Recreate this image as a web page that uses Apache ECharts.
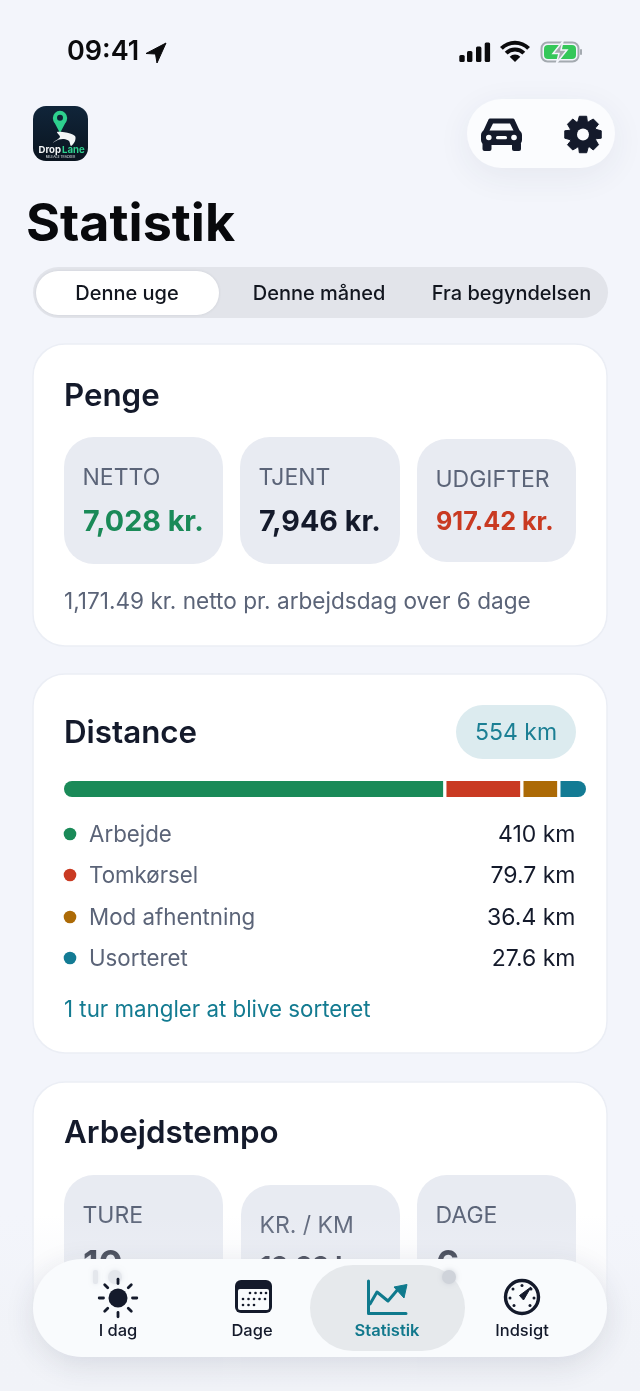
<!DOCTYPE html>
<html lang="da">
<head>
    <meta charset="UTF-8">
    <title>Statistik</title>
    <script src="https://cdn.jsdelivr.net/npm/echarts@6/dist/echarts.min.js"></script>
    <style>
        html, body { margin: 0; padding: 0; background: #f3f5fb; }
        #content { width: 640px; height: 1391px; }
    </style>
</head>
<body>
<div id="content"></div>
<script>
    // data
    var periodTabs = ['Denne uge', 'Denne måned', 'Fra begyndelsen'];
    var moneyLabels = ['NETTO', 'TJENT', 'UDGIFTER'];
    var moneyValues = ['7,028 kr.', '7,946 kr.', '917.42 kr.'];
    var distanceCategories = ['Arbejde', 'Tomkørsel', 'Mod afhentning', 'Usorteret'];
    var distanceValues = [410, 79.7, 36.4, 27.6];
    var distanceLabels = ['410 km', '79.7 km', '36.4 km', '27.6 km'];
    var tempoLabels = ['TURE', 'KR. / KM', 'DAGE'];
    var tempoValues = ['10', '13.33 kr.', '6'];
    var navLabels = ['I dag', 'Dage', 'Statistik', 'Indsigt'];

    var INK = '#141a2b', GREY = '#5b6478', TEAL = '#137b91', TILE = '#e8ebf2';
    var segmentColors = ['#1a8a58', '#c93a22', '#ac6a06', '#137b94'];
    var FONT = 'Inter, "Noto Sans", sans-serif';

    var g = [];
    function rect(x, y, w, h, r, fill, extra) {
        g.push({type: 'rect', silent: true, shape: {x: x, y: y, width: w, height: h, r: r},
            style: Object.assign({fill: fill}, extra || {})});
    }
    function text(x, y, s, size, weight, color, align) {
        g.push({type: 'text', silent: true, x: x, y: y + 1, style: {text: s, fill: color,
            font: weight + ' ' + size + 'px ' + FONT, textAlign: align || 'left', textVerticalAlign: 'middle'}});
    }
    function circle(x, y, r, fill, extra) {
        g.push({type: 'circle', silent: true, shape: {cx: x, cy: y, r: r},
            style: Object.assign({fill: fill}, extra || {})});
    }
    function poly(points, fill, extra, smooth) {
        g.push({type: 'polygon', silent: true, shape: {points: points, smooth: smooth || 0},
            style: Object.assign({fill: fill}, extra || {})});
    }
    function line(points, color, width) {
        g.push({type: 'polyline', silent: true, shape: {points: points},
            style: {fill: null, stroke: color, lineWidth: width, lineCap: 'round', lineJoin: 'round'}});
    }
    function wedge(x, y, r0, r, fill) {
        g.push({type: 'sector', silent: true, shape: {cx: x, cy: y, r0: r0, r: r,
            startAngle: -Math.PI * 0.75, endAngle: -Math.PI * 0.25, clockwise: true}, style: {fill: fill}});
    }

    // status bar
    text(67, 51, '09:41', 27, 600, '#0b0b0d');
    poly([[166, 43], [146, 53.5], [155.5, 54], [157, 63]], '#0b0b0d', {stroke: '#0b0b0d', lineWidth: 1, lineJoin: 'round'});
    rect(459.3, 55, 5.4, 7, 1.5, '#0b0b0d');
    rect(467, 51, 5.4, 11, 1.5, '#0b0b0d');
    rect(476, 46.5, 5.4, 15.5, 1.5, '#0b0b0d');
    rect(484.7, 42.5, 5.4, 19.5, 1.5, '#0b0b0d');
    wedge(515, 62, 0, 7.5, '#0b0b0d');
    wedge(515, 62, 10.5, 14.5, '#0b0b0d');
    wedge(515, 62, 17.2, 21.2, '#0b0b0d');
    rect(541.5, 42.5, 37, 19, 6, 'none', {stroke: '#a4aab0', lineWidth: 2});
    rect(544, 45, 32, 14, 4, '#35c759');
    rect(580, 49, 2, 6, 1, '#a4aab0');
    poly([[563, 41], [553, 53.5], [559, 53.5], [556.5, 63], [567, 50], [561, 50]], '#a4a9ad', {stroke: '#f3f5fb', lineWidth: 1.5});

    // logo
    rect(33, 106, 55, 55, 13, {type: 'linear', x: 0, y: 0, x2: 0, y2: 1, colorStops: [
        {offset: 0, color: '#10253a'}, {offset: 1, color: '#0a141f'}]});
    circle(60, 118, 7.2, '#2ed08e');
    poly([[53.6, 121], [60, 133], [66.4, 121]], '#2ed08e');
    circle(60, 117.8, 3, '#0f2236');
    poly([[53, 142.5], [60, 137], [57, 132], [66, 132.5], [75, 136], [75, 141], [71, 146], [69, 141], [64, 139], [59, 139.5]], '#f2f5f6', {}, 0.3);
    g.push({type: 'text', silent: true, x: 38.5, y: 150, style: {text: 'Drop', fill: '#f4f6f7',
        font: '700 9.6px ' + FONT, textVerticalAlign: 'middle'}});
    g.push({type: 'text', silent: true, x: 62, y: 150, style: {text: 'Lane', fill: '#2ed08e',
        font: '700 9.6px ' + FONT, textVerticalAlign: 'middle'}});
    g.push({type: 'text', silent: true, x: 60.5, y: 157, style: {text: 'MILEAGE TRACKER', fill: '#cfd6da',
        font: '500 3.2px ' + FONT, textAlign: 'center', textVerticalAlign: 'middle'}});

    // header buttons
    rect(467, 99, 148, 69, 34.5, '#fbfcfe', {shadowBlur: 34, shadowColor: 'rgba(40,50,80,0.07)', shadowOffsetY: 8});
    poly([[490, 120], [513, 120], [519, 133], [484, 133]], '#141a2b', {stroke: '#141a2b', lineWidth: 3, lineJoin: 'round'});
    rect(481, 130, 41, 15, 5, '#141a2b');
    rect(482.5, 142, 9, 9, 2, '#141a2b');
    rect(512, 142, 9, 9, 2, '#141a2b');
    poly([[493, 123.5], [510, 123.5], [513.5, 130.5], [489.5, 130.5]], '#fbfcfe');
    circle(488.8, 137.5, 2.8, '#fbfcfe');
    circle(514, 137.5, 2.8, '#fbfcfe');
    rect(496, 136, 11, 3.2, 1.5, '#fbfcfe');
    var gear = [];
    for (var t = 0; t < 8; t++) {
        var a = t * Math.PI / 4 - Math.PI / 2;
        [[-0.2, 18.6], [0.2, 18.6], [0.3, 14.2], [Math.PI / 8, 13.6]].forEach(function (p) {
            gear.push([583 + p[1] * Math.cos(a + p[0]), 134.5 + p[1] * Math.sin(a + p[0])]);
        });
    }
    poly(gear, '#141a2b', {stroke: '#141a2b', lineWidth: 1, lineJoin: 'round'});
    circle(583, 134.5, 6, '#fbfcfe');

    // title and period tabs
    text(26, 224, 'Statistik', 52, 700, '#08090c');
    rect(33, 267, 575, 51, 25.5, '#e2e4ea');
    rect(36, 271, 183, 44, 22, '#ffffff', {shadowBlur: 3, shadowColor: 'rgba(30,40,60,0.12)'});
    periodTabs.forEach(function (s, i) {
        text([127, 319, 511.5][i], 293, s, 20, 500, '#12161f', 'center');
    });

    // Penge card
    var cardBorder = {stroke: '#ebeef5', lineWidth: 1.5};
    rect(33, 344, 574, 302, 32, '#ffffff', cardBorder);
    text(64, 396, 'Penge', 31.3, 600, INK);
    var moneyTiles = [[64, 437, 159, 127], [240, 437, 160, 127], [417, 439, 159, 123]];
    var moneyColors = [segmentColors[0], INK, segmentColors[1]];
    moneyLabels.forEach(function (s, i) {
        var b = moneyTiles[i];
        rect(b[0], b[1], b[2], b[3], 30, TILE);
        text(b[0] + 18.5, i === 2 ? 479 : 477, s, 23, 400, GREY);
        text(b[0] + 19, 521, moneyValues[i], i === 2 ? 25.2 : 28.7, 700, moneyColors[i]);
    });
    text(64, 601, '1,171.49 kr. netto pr. arbejdsdag over 6 dage', 22.6, 400, GREY);

    // Distance card
    rect(33, 674, 574, 379, 32, '#ffffff', cardBorder);
    text(64, 733, 'Distance', 31.3, 600, INK);
    rect(456, 705, 120, 54, 27, '#dcebef');
    text(516, 732, '554 km', 23, 400, '#1b7f94', 'center');
    distanceCategories.forEach(function (s, i) {
        var y = [834, 875, 917, 958][i];
        circle(70, y, 6.3, segmentColors[i]);
        text(89, y, s, 22.3, 400, GREY);
        text(575.5, y, distanceLabels[i], 23, 400, INK, 'right');
    });
    text(64, 1009, '1 tur mangler at blive sorteret', 22.3, 400, TEAL);

    // Arbejdstempo card, runs behind the tab bar
    rect(33, 1082, 574, 340, 32, '#ffffff', cardBorder);
    text(64, 1133, 'Arbejdstempo', 31.3, 600, INK);
    var tempoTiles = [[64, 1175, 159], [241, 1185, 159], [417, 1175, 159]];
    tempoLabels.forEach(function (s, i) {
        var b = tempoTiles[i];
        rect(b[0], b[1], b[2], 240, 30, TILE);
        text(b[0] + 18.5, b[1] + 40, s, 23, 400, GREY);
        text(b[0] + 19, i === 1 ? 1266 : 1264, tempoValues[i], i === 1 ? 26 : 36, 700, INK);
    });

    // fade at the bottom of the screen
    rect(0, 1215, 640, 176, 0, {type: 'linear', x: 0, y: 0, x2: 0, y2: 1, colorStops: [
        {offset: 0, color: 'rgba(241,243,248,0)'}, {offset: 0.25, color: 'rgba(241,243,248,0.3)'},
        {offset: 0.6, color: 'rgba(241,243,248,0.92)'}, {offset: 1, color: '#f1f3f8'}]});

    // tab bar
    rect(33, 1259, 574, 98, 49, '#f9fbfd', {shadowBlur: 30, shadowColor: 'rgba(40,50,80,0.13)', shadowOffsetY: 8});
    rect(310, 1265, 155, 86, 43, '#e6e9ec');
    rect(93, 1270, 5, 14, 2, '#e4e7ec', {shadowBlur: 4, shadowColor: '#e4e7ec'});
    circle(115, 1277, 7, '#e4e7ec', {shadowBlur: 5, shadowColor: '#e4e7ec'});
    circle(449, 1277, 7, '#cfd3da', {shadowBlur: 5, shadowColor: '#cfd3da'});
    navLabels.forEach(function (s, i) {
        text([118, 252, 387, 522][i], 1330.5, s, 16.5, i === 2 ? 600 : 500, i === 2 ? '#11788c' : INK, 'center');
    });

    // sun
    circle(118, 1298, 9.5, INK);
    for (var k = 0; k < 8; k++) {
        var ang = k * Math.PI / 4;
        line([[118 + 14.5 * Math.cos(ang), 1298 + 14.5 * Math.sin(ang)],
            [118 + 18.8 * Math.cos(ang), 1298 + 18.8 * Math.sin(ang)]], INK, 2.8);
    }
    // calendar
    rect(235, 1280, 37, 33, 6, INK);
    rect(238, 1289, 31, 21, 2, '#f9fbfd');
    [[1293, [250, 255.5, 261, 266]], [1299, [243, 248.5, 254, 259.5, 265]], [1305, [243, 248.5, 254]]].forEach(function (rowDots) {
        rowDots[1].forEach(function (dx) { circle(dx, rowDots[0], 1.3, INK); });
    });
    // chart up
    line([[368.5, 1281], [368.5, 1313.5], [406, 1313.5]], '#0f7a8d', 3);
    line([[370, 1304], [377, 1292], [388, 1301], [399, 1288]], '#0f7a8d', 3);
    poly([[407, 1284.5], [394, 1287], [404, 1298]], '#0f7a8d', {stroke: '#0f7a8d', lineWidth: 1, lineJoin: 'round'});
    // gauge
    circle(522, 1297, 16.5, 'none', {stroke: INK, lineWidth: 3.4});
    [[522, 1285.5], [513, 1289], [531, 1289], [510, 1298], [534, 1298], [514, 1305.5], [530, 1305.5]].forEach(function (d) {
        circle(d[0], d[1], 1.5, INK);
    });
    poly([[531, 1287], [519.5, 1295.5], [523.5, 1300]], INK, {stroke: INK, lineWidth: 1, lineJoin: 'round'});

    // the distance bar: stacked, with an empty spacer between the parts
    var total = distanceValues.reduce(function (a, b) { return a + b; }, 0);
    var spacer = total * 3.33 / 512;
    var series = [];
    distanceValues.forEach(function (v, i) {
        var last = distanceValues.length - 1;
        series.push({
            name: distanceCategories[i], type: 'bar', stack: 'km', barWidth: 16, silent: true,
            data: [v],
            itemStyle: {color: segmentColors[i], borderRadius: i === 0 ? [8, 0, 0, 8] : (i === last ? [0, 8, 8, 0] : 0)}
        });
        if (i < last) {
            series.push({type: 'bar', stack: 'km', barWidth: 16, silent: true, data: [spacer], itemStyle: {color: 'transparent'}});
        }
    });

    var myChart = echarts.init(document.getElementById('content'));
    myChart.setOption({
        animation: false,
        backgroundColor: '#f3f5fb',
        tooltip: {show: false},
        grid: {left: 64, top: 781, width: 522, height: 16},
        xAxis: {type: 'value', min: 0, max: total + spacer * 3, show: false},
        yAxis: {type: 'category', data: ['km'], show: false},
        graphic: {elements: g},
        series: series
    });
</script>
</body>
</html>
